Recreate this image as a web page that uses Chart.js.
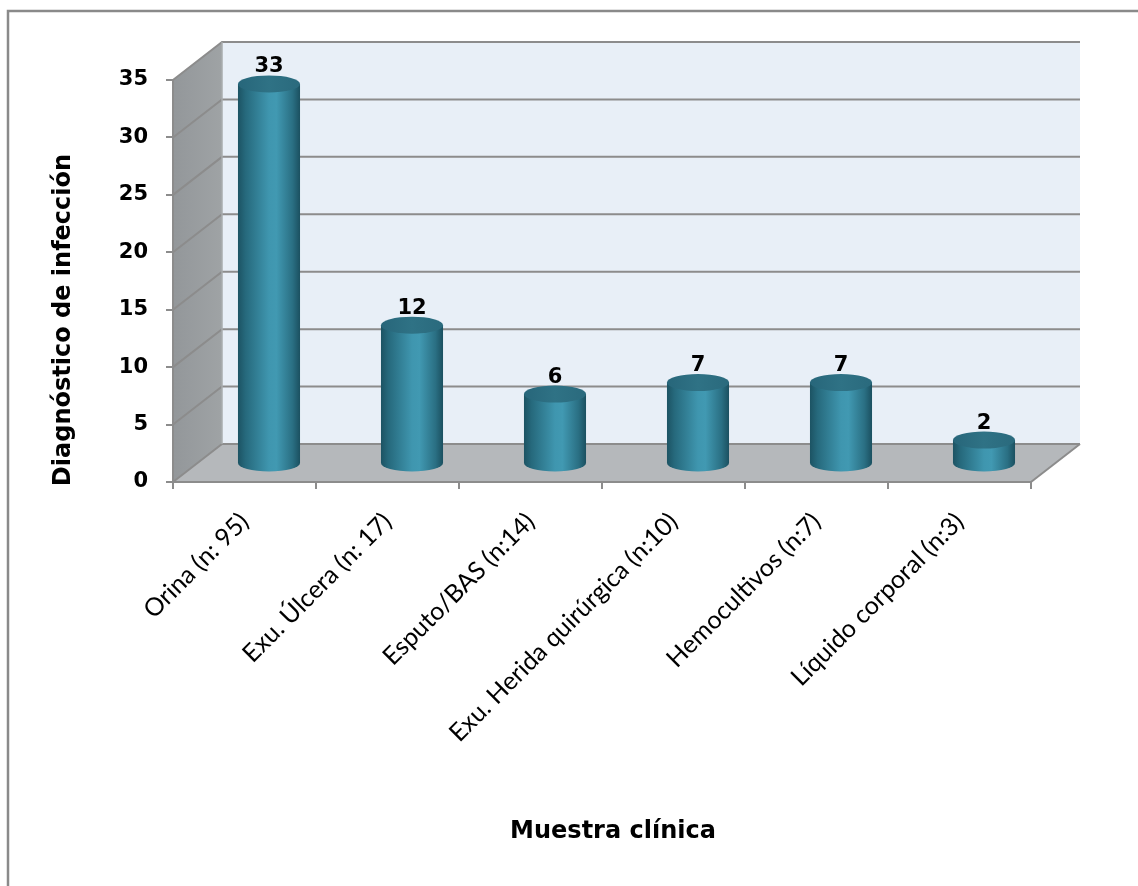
<!DOCTYPE html>
<html>
<head>
<meta charset="utf-8">
<script src="https://cdn.jsdelivr.net/npm/chart.js@4.4.1/dist/chart.umd.min.js"></script>
<style>
  html, body { margin: 0; padding: 0; background: #fff; }
  #wrap { width: 1138px; height: 886px; }
</style>
</head>
<body>
<div id="wrap"><canvas id="muestras" width="1138" height="886"></canvas></div>
<script>
const categorias = [
    'Orina (n: 95)',
    'Exu. Úlcera (n: 17)',
    'Esputo/BAS (n:14)',
    'Exu. Herida quirúrgica (n:10)',
    'Hemocultivos (n:7)',
    'Líquido corporal (n:3)'
];
const diagnosticos = [33, 12, 6, 7, 7, 2];
const yMin = 0;
const yMax = 35;
const yStep = 5;

const tituloX = 'Muestra clínica';
const tituloY = 'Diagnóstico de infección';

// depth of the 3D box (back wall offset from the front plane)
const DX = 49;
const DY = -38;
const GRID = '#8c8c8c';
const BOLD = 'bold 21px "DejaVu Sans", Verdana, sans-serif';
const TITLE = 'bold 24px "DejaVu Sans", Verdana, sans-serif';

function drawCylinder(ctx, cx, rx, ry, yTop, yBottom) {
    const body = ctx.createLinearGradient(cx - rx, 0, cx + rx, 0);
    body.addColorStop(0, '#1c5363');
    body.addColorStop(0.12, '#26697c');
    body.addColorStop(0.5, '#3f96af');
    body.addColorStop(0.62, '#4199b2');
    body.addColorStop(0.88, '#2a6f83');
    body.addColorStop(1, '#1b5060');

    ctx.beginPath();
    ctx.moveTo(cx - rx, yTop);
    ctx.lineTo(cx - rx, yBottom);
    ctx.ellipse(cx, yBottom, rx, ry, 0, Math.PI, 0, true);
    ctx.lineTo(cx + rx, yTop);
    ctx.closePath();
    ctx.fillStyle = body;
    ctx.fill();

    const cap = ctx.createLinearGradient(cx - rx, 0, cx + rx, 0);
    cap.addColorStop(0, '#27667a');
    cap.addColorStop(0.5, '#2f7285');
    cap.addColorStop(1, '#2a6a7d');
    ctx.beginPath();
    ctx.ellipse(cx, yTop, rx, ry, 0, 0, Math.PI * 2);
    ctx.fillStyle = cap;
    ctx.fill();
}

const caja3d = {
    id: 'caja3d',
    beforeDraw(chart) {
        const { ctx, chartArea: a, scales: { y } } = chart;
        ctx.save();

        // outer frame of the chart object
        ctx.strokeStyle = '#8a8a8a';
        ctx.lineWidth = 2.5;
        ctx.strokeRect(8, 11, 1300, 1000);

        // left side wall
        const side = ctx.createLinearGradient(a.left, 0, a.left + DX, 0);
        side.addColorStop(0, '#93979a');
        side.addColorStop(1, '#9fa3a5');
        ctx.fillStyle = side;
        ctx.beginPath();
        ctx.moveTo(a.left, a.bottom);
        ctx.lineTo(a.left, a.top);
        ctx.lineTo(a.left + DX, a.top + DY);
        ctx.lineTo(a.left + DX, a.bottom + DY);
        ctx.closePath();
        ctx.fill();

        // back wall
        ctx.fillStyle = '#e8eff7';
        ctx.fillRect(a.left + DX, a.top + DY, a.right - a.left, a.bottom - a.top);

        // floor
        ctx.fillStyle = '#b5b8bb';
        ctx.beginPath();
        ctx.moveTo(a.left, a.bottom);
        ctx.lineTo(a.right, a.bottom);
        ctx.lineTo(a.right + DX, a.bottom + DY);
        ctx.lineTo(a.left + DX, a.bottom + DY);
        ctx.closePath();
        ctx.fill();

        // gridlines on the side and back walls
        ctx.strokeStyle = GRID;
        ctx.lineWidth = 2;
        for (let v = yMin; v <= yMax; v += yStep) {
            const py = y.getPixelForValue(v);
            ctx.beginPath();
            ctx.moveTo(a.left, py);
            ctx.lineTo(a.left + DX, py + DY);
            ctx.lineTo(a.right + DX, py + DY);
            ctx.stroke();
        }

        // corner edges
        ctx.beginPath();
        ctx.moveTo(a.right, a.bottom);
        ctx.lineTo(a.right + DX, a.bottom + DY);
        ctx.stroke();
        ctx.strokeStyle = '#a9acae';
        ctx.lineWidth = 1.5;
        ctx.beginPath();
        ctx.moveTo(a.left + DX, a.top + DY);
        ctx.lineTo(a.left + DX, a.bottom + DY);
        ctx.stroke();

        ctx.restore();
    },
    afterDatasetsDraw(chart) {
        const { ctx, scales: { y } } = chart;
        const meta = chart.getDatasetMeta(0);
        const base = y.getPixelForValue(0);
        ctx.save();
        meta.data.forEach((bar, i) => {
            const cx = bar.x + DX / 2;
            const rx = bar.width / 2;
            const ry = 8.5;
            const yTop = bar.y + DY / 2;
            const yBottom = base + DY / 2;
            drawCylinder(ctx, cx, rx, ry, yTop, yBottom);

            ctx.fillStyle = '#000';
            ctx.font = BOLD;
            ctx.textAlign = 'center';
            ctx.textBaseline = 'alphabetic';
            ctx.fillText(String(diagnosticos[i]), cx, yTop - ry - 3);
        });
        ctx.restore();
    },
    afterDraw(chart) {
        const { ctx } = chart;
        ctx.save();
        ctx.fillStyle = '#000';
        ctx.font = TITLE;
        ctx.textAlign = 'center';
        ctx.textBaseline = 'alphabetic';
        ctx.fillText(tituloX, 613, 838);

        ctx.translate(70, 320);
        ctx.rotate(-Math.PI / 2);
        ctx.fillText(tituloY, 0, 0);
        ctx.restore();
    }
};

new Chart(document.getElementById('muestras'), {
    type: 'bar',
    data: {
        labels: categorias,
        datasets: [{
            data: diagnosticos,
            backgroundColor: 'rgba(0,0,0,0)',
            borderWidth: 0,
            categoryPercentage: 1,
            barPercentage: 0.434
        }]
    },
    options: {
        responsive: false,
        animation: false,
        events: [],
        layout: { padding: { left: 0, top: 80, right: 107, bottom: 0 } },
        plugins: {
            legend: { display: false },
            tooltip: { enabled: false }
        },
        scales: {
            x: {
                afterFit(scale) { scale.height = 404; },
                border: { color: GRID, width: 2 },
                grid: { drawOnChartArea: false, tickLength: 7, color: GRID, lineWidth: 2 },
                ticks: {
                    autoSkip: false,
                    minRotation: 45,
                    maxRotation: 45,
                    padding: 18,
                    color: '#000',
                    font: { family: 'Lato, "Open Sans", sans-serif', size: 25 }
                }
            },
            y: {
                min: yMin,
                max: yMax,
                afterFit(scale) { scale.width = 173; },
                border: { color: GRID, width: 2 },
                grid: { drawOnChartArea: false, tickLength: 7, color: GRID, lineWidth: 2 },
                ticks: {
                    stepSize: yStep,
                    padding: 18,
                    color: '#000',
                    font: { family: '"DejaVu Sans", Verdana, sans-serif', size: 21, weight: 'bold' }
                }
            }
        }
    },
    plugins: [caja3d]
});
</script>
</body>
</html>
